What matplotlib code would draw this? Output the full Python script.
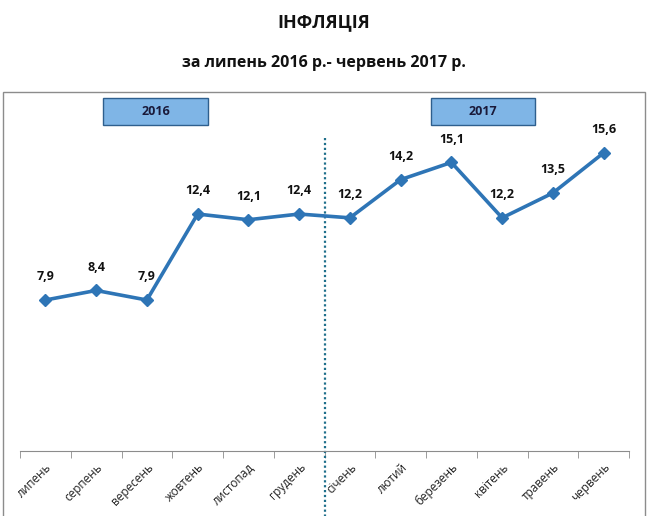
import matplotlib
matplotlib.use("Agg")
import matplotlib.pyplot as plt
from matplotlib.patches import Rectangle
import numpy as np

months = ["липень", "серпень", "вересень", "жовтень", "листопад", "грудень",
          "січень", "лютий", "березень", "квітень", "травень", "червень"]
values = [7.9, 8.4, 7.9, 12.4, 12.1, 12.4, 12.2, 14.2, 15.1, 12.2, 13.5, 15.6]
years = ["2016", "2017"]
title = "ІНФЛЯЦІЯ"
subtitle = "за липень 2016 р.- червень 2017 р."

plt.rcParams['font.family'] = ['Open Sans', 'DejaVu Sans']

fig = plt.figure(figsize=(6.48, 5.16), dpi=100)
W, H = 648, 516

def fx(px):
    return px / W

def fy(py):
    return 1 - py / H

# chart border
fig.patches.append(Rectangle((fx(3), fy(520)), fx(642), (520 - 92) / H,
                             transform=fig.transFigure, fill=False,
                             edgecolor='#8c8c8c', linewidth=1.0))

fig.text(0.5, fy(22), title, ha='center', va='center', fontsize=13,
         fontweight='bold', color='#111111')
fig.text(0.5, fy(63), subtitle, ha='center', va='center', fontsize=11.5,
         fontweight='bold', color='#111111')

ax = fig.add_axes([fx(20), fy(451), fx(629 - 20), (451 - 107) / H])
x = np.arange(len(months))
ax.plot(x, values, color='#2e75b6', linewidth=2.6, marker='D', markersize=6.5,
        markerfacecolor='#2e75b6', markeredgecolor='#2e75b6', zorder=3)
for xi, v in zip(x, values):
    ax.annotate(f"{v:.1f}".replace('.', ','), (xi, v), xytext=(0, 12),
                textcoords='offset points', ha='center', va='bottom',
                fontsize=9, fontweight='bold', color='#111111')

ax.set_xlim(-0.5, len(months) - 0.5)
ax.set_ylim(0, 18)
ax.set_yticks([])
for s in ['top', 'right', 'left']:
    ax.spines[s].set_visible(False)
ax.spines['bottom'].set_color('#8c8c8c')
ax.set_xticks(x)
ax.set_xticklabels(months, rotation=45, ha='right', rotation_mode='anchor',
                   fontsize=8.5, color='#222222')
ax.tick_params(axis='x', which='major', length=0, pad=7)
ax.set_xticks(np.arange(-0.5, len(months), 1), minor=True)
ax.tick_params(axis='x', which='minor', length=5, color='#8c8c8c')

# dotted divider
trans = ax.get_xaxis_transform()
ax.plot([5.5, 5.5], [(451 - 138) / 344, (451 - 516) / 344], transform=trans,
        color='#1f6f8b', linestyle=(0, (1, 1.2)), linewidth=1.6, clip_on=False)

# year boxes
for (x0, x1), yr in zip([(103, 208), (431, 535)], years):
    fig.patches.append(Rectangle((fx(x0), fy(125)), fx(x1 - x0), 27 / H,
                                 transform=fig.transFigure, facecolor='#7fb5e6',
                                 edgecolor='#2e5f8e', linewidth=1.0))
    fig.text(fx((x0 + x1) / 2), fy(111.5), yr, ha='center', va='center',
             fontsize=9, fontweight='bold', color='#1a1a3a')

fig.savefig("out.png", dpi=100)
